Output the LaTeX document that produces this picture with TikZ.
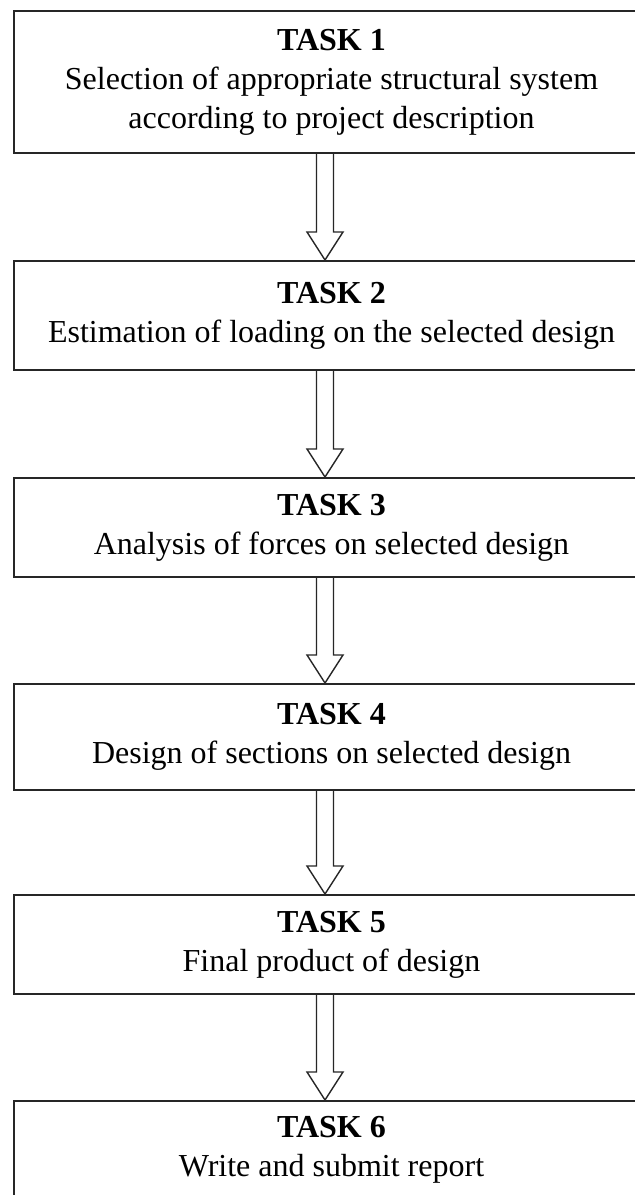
\documentclass[tikz,border=0pt]{standalone}
\usepackage{fontspec}
\setmainfont{Liberation Serif}
\usetikzlibrary{calc}
\begin{document}
\begin{tikzpicture}[x=1pt,y=-1pt,
  taskbox/.style={draw=black!85, line width=2pt, minimum width=635pt,
    minimum height=#1, align=center, inner sep=0pt, anchor=north west,
    font=\fontsize{32}{39}\selectfont},
  hollowarrow/.style={draw=black!85, line width=1.4pt, fill=white, line join=miter}]
  \useasboundingbox (0,0) rectangle (635,1195);
  \clip (0,0) rectangle (635,1195);
  \fill[white] (0,0) rectangle (635,1195);

  % task boxes, right and lower edges run off the page
  \node[taskbox=142pt] (t1) at (13,10)
    {\textbf{TASK 1}\\Selection of appropriate structural system\\according to project description};
  \node[taskbox=109pt] (t2) at (13,260)
    {\textbf{TASK 2}\\Estimation of loading on the selected design};
  \node[taskbox=99pt] (t3) at (13,477)
    {\textbf{TASK 3}\\Analysis of forces on selected design};
  \node[taskbox=106pt] (t4) at (13,683)
    {\textbf{TASK 4}\\Design of sections on selected design};
  \node[taskbox=99pt] (t5) at (13,894)
    {\textbf{TASK 5}\\Final product of design};
  \node[taskbox=98pt] (t6) at (13,1100)
    {\textbf{TASK 6}\\Write and submit report};

  % hollow block arrows between consecutive tasks
  \coordinate (ax) at (325,0);
  \foreach \a/\b in {t1/t2,t2/t3,t3/t4,t4/t5,t5/t6} {
    \draw[hollowarrow] let \p1 = (\a.south -| ax), \p2 = (\b.north -| ax) in
      ({\x1-8.5pt},\y1) -- ({\x1-8.5pt},{\y2+28pt}) -- ({\x1-18pt},{\y2+28pt})
      -- (\x1,\y2) -- ({\x1+18pt},{\y2+28pt}) -- ({\x1+8.5pt},{\y2+28pt})
      -- ({\x1+8.5pt},\y1);
  }
\end{tikzpicture}
\end{document}
